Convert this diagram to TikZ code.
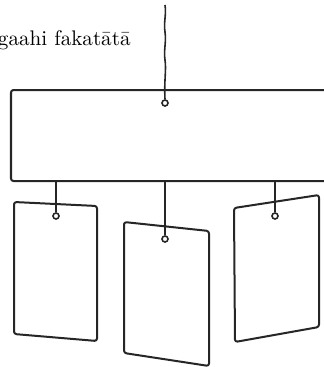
\documentclass[tikz,border=0pt]{standalone}
\usepackage{fontspec}
\begin{document}
\begin{tikzpicture}[x=1bp,y=-1bp,
  edge/.style={line width=2bp,draw=black!85,line join=round},
  card/.style={edge,rounded corners=2.5bp},
  strng/.style={line width=1.6bp,draw=black!85},
  hole/.style={circle,line width=1.6bp,draw=black!85,fill=white,minimum size=6bp,inner sep=0pt},
  lbl/.style={anchor=base east,inner sep=0pt,scale=2.12}]
\useasboundingbox (0,0) rectangle (324,367);
\clip (0,0) rectangle (324,367);
% text
\node[lbl] (t) at (131,45) {gaahi fakatātā};
% big bar
\draw[card] (340,90) -- (11,90) -- (11,181) -- (340,181);
% holes
\coordinate (top) at (165,5);
\node[hole] (h0) at (165,103) {};
\node[hole] (h1) at (56,216) {};
\node[hole] (h2) at (165,239) {};
\node[hole] (h3) at (275,216) {};
\coordinate (b1) at (56,181);
\coordinate (b2) at (165,181);
\coordinate (b3) at (275,181);
% cards
\draw[card] (14,202) -- (97,206) -- (97,341) -- (14,334) -- cycle;
\draw[card] (124,222) -- (209,231) -- (209,366) -- (124,353) -- cycle;
\draw[card] (234,208) -- (319,195) -- (319,327) -- (235,342) -- cycle;
% strings
\draw[strng] (top) .. controls (166.5,15) and (163.5,22) .. (165,32)
  .. controls (166.5,42) and (163.5,50) .. (165,60)
  .. controls (166.5,70) and (164,80) .. (h0.north);
\draw[strng] (b1) -- (h1.north);
\draw[strng] (b2) -- (h2.north);
\draw[strng] (b3) -- (h3.north);
\end{tikzpicture}
\end{document}
